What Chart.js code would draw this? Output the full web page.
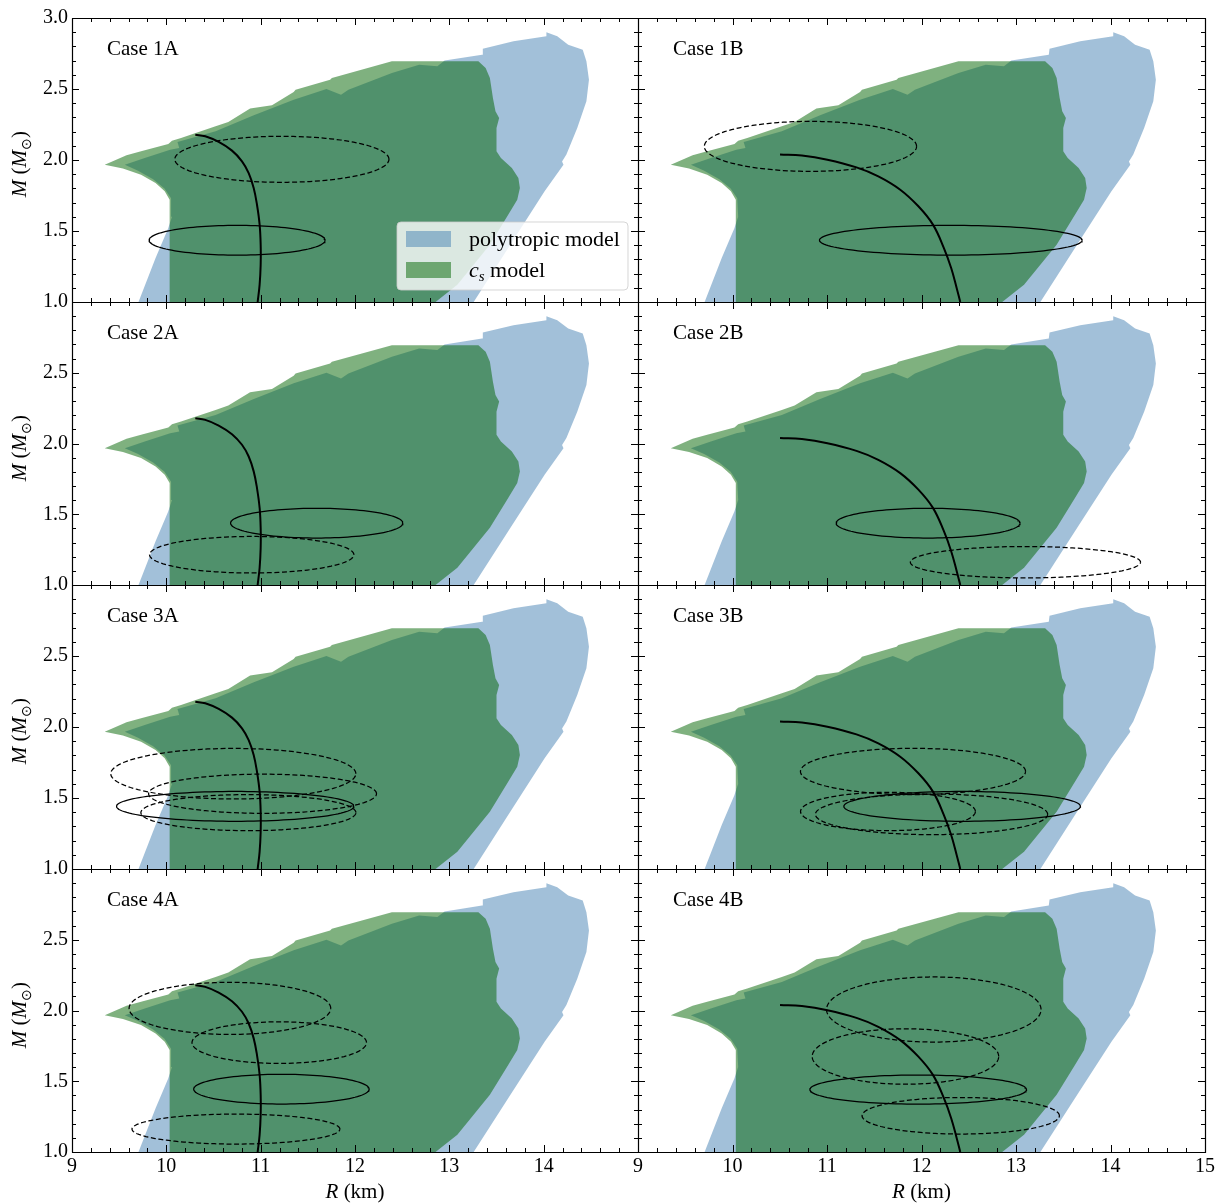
<!DOCTYPE html>
<html>
<head>
<meta charset="utf-8">
<script src="https://cdn.jsdelivr.net/npm/chart.js@4.4.1/dist/chart.umd.min.js"></script>
<style>
  body { margin: 0; background: #fff; }
  #fig { position: relative; width: 1215px; height: 1203px; overflow: hidden; font-family: 'Liberation Serif', serif; color: #000; }
  #fig canvas { position: absolute; }
  .xlab { position: absolute; font-size: 21px; transform: translateX(-50%); white-space: nowrap; }
  .ylab { position: absolute; font-size: 21px; transform: translate(-50%, -50%) rotate(-90deg); white-space: nowrap; }
  .ylab sub { font-size: 14px; }
</style>
</head>
<body>
<div id="fig"></div>
<script>
// panels
const caseLabels = ['Case 1A', 'Case 1B', 'Case 2A', 'Case 2B', 'Case 3A', 'Case 3B', 'Case 4A', 'Case 4B'];

// polytropic model region (R in km, M in Msun)
const polyR = [9.56, 9.771, 10.04, 10.137, 10.118, 10.522, 10.927, 11.35, 11.697, 11.852, 11.93, 12.391, 12.68, 12.873, 12.95,
  13.347, 13.355, 13.68, 14.029, 14.029, 14.144, 14.26, 14.414, 14.453, 14.48, 14.453, 14.356, 14.241, 14.195, 14.21,
  14.01, 13.624, 13.258, 9.705, 9.886, 10.02, 10.06, 10.05, 9.98, 9.86, 9.70, 9.56];
const polyM = [1.967, 2.014, 2.073, 2.085, 2.127, 2.202, 2.315, 2.425, 2.50, 2.46, 2.495, 2.613, 2.671, 2.66, 2.70,
  2.742, 2.784, 2.836, 2.871, 2.90, 2.871, 2.812, 2.777, 2.695, 2.566, 2.413, 2.225, 2.038, 1.99, 1.967,
  1.78, 1.38, 1.0, 1.0, 1.31, 1.52, 1.6, 1.73, 1.80, 1.865, 1.925, 1.967];

// c_s model region
const csR = [9.347, 9.578, 9.732, 10.021, 10.06, 10.156, 10.522, 10.657, 10.888, 11.12, 11.35, 11.37, 11.736, 11.755, 12.391,
  13.308, 13.385, 13.43, 13.462, 13.489, 13.528, 13.50, 13.50, 13.547, 13.663, 13.732, 13.748, 13.72, 13.624, 13.43,
  13.085, 12.854, 10.035, 10.035, 9.983, 9.886, 9.732, 9.54, 9.347];
const csM = [1.967, 2.033, 2.061, 2.113, 2.136, 2.155, 2.237, 2.268, 2.362, 2.385, 2.479, 2.495, 2.566, 2.577, 2.695,
  2.695, 2.648, 2.577, 2.437, 2.343, 2.296, 2.225, 2.061, 2.014, 1.944, 1.873, 1.803, 1.72, 1.615, 1.404,
  1.122, 1.0, 1.0, 1.72, 1.78, 1.838, 1.897, 1.94, 1.967];

// mass-radius curves
const curveAR = [10.307, 10.413, 10.555, 10.696, 10.802, 10.873, 10.926, 10.961, 10.989, 11.0, 11.0, 10.989, 10.968];
const curveAM = [2.178, 2.167, 2.127, 2.066, 1.991, 1.908, 1.803, 1.685, 1.545, 1.404, 1.263, 1.122, 1.0];
const curveBR = [10.503, 10.734, 11.004, 11.312, 11.543, 11.775, 11.967, 12.121, 12.237, 12.314, 12.372, 12.41];
const curveBM = [2.038, 2.031, 2.002, 1.948, 1.885, 1.791, 1.674, 1.545, 1.38, 1.239, 1.099, 1.0];

// measurement ellipses: panel, centre R, centre M, half width R, half width M, dashed
const ellPanel = [0, 0, 1, 1, 2, 2, 3, 3, 4, 4, 4, 4, 5, 5, 5, 5, 6, 6, 6, 6, 7, 7, 7, 7];
const ellR = [10.75, 11.225, 12.31, 10.825, 11.594, 10.905, 12.07, 13.10, 10.73, 10.71, 11.02, 10.87,
  12.43, 11.91, 11.645, 12.106, 11.22, 10.674, 11.197, 10.738, 11.965, 12.13, 11.83, 12.415];
const ellM = [1.435, 2.005, 1.435, 2.096, 1.437, 1.214, 1.437, 1.161, 1.441, 1.671, 1.53, 1.397,
  1.441, 1.687, 1.405, 1.385, 1.444, 2.015, 1.773, 1.162, 1.441, 2.007, 1.675, 1.256];
const ellDR = [0.933, 1.135, 1.39, 1.123, 0.913, 1.083, 0.973, 1.218, 1.258, 1.299, 1.208, 1.14,
  1.252, 1.191, 0.925, 1.229, 0.93, 1.069, 0.925, 1.102, 1.146, 1.135, 0.987, 1.044];
const ellDM = [0.105, 0.162, 0.105, 0.176, 0.105, 0.129, 0.105, 0.111, 0.105, 0.178, 0.138, 0.127,
  0.105, 0.163, 0.135, 0.143, 0.105, 0.184, 0.147, 0.106, 0.103, 0.23, 0.196, 0.129];
const ellDashed = [0, 1, 0, 1, 0, 1, 0, 1, 0, 1, 1, 1, 0, 1, 1, 1, 0, 1, 1, 1, 0, 1, 1, 1];

// axes
const xMin = 9, xMax = 15, xStep = 1, xMinor = 0.2;
const yMin = 1, yMax = 3, yStep = 0.5, yMinor = 0.1;

const colLeft = [72, 638];
const colWidth = [566, 567];
const rowTop = [18, 302, 585, 869];
const rowHeight = [284, 283, 284, 283];
const PAD_TOP = 20, PAD_RIGHT = 14, AXIS_W = 72, AXIS_H = 50;
const FONT = 'Liberation Serif';

const pts = (xs, ys) => xs.map((v, k) => ({ x: v, y: ys[k] }));

function ellipsePts(k) {
  const out = [];
  for (let j = 0; j <= 120; j++) {
    const t = 2 * Math.PI * j / 120;
    out.push({ x: ellR[k] + ellDR[k] * Math.cos(t), y: ellM[k] + ellDM[k] * Math.sin(t) });
  }
  return out;
}

// inward ticks on all four sides + frame
const frameTicks = {
  id: 'frameTicks',
  afterDraw(chart, args, opts) {
    const { ctx, chartArea: a, scales: { x, y } } = chart;
    ctx.save();
    ctx.strokeStyle = '#000';
    ctx.lineWidth = 1;
    ctx.beginPath();
    const nx = Math.round((xMax - xMin) / xMinor);
    for (let k = 0; k <= nx; k++) {
      const v = xMin + k * xMinor;
      const px = Math.round(x.getPixelForValue(v)) + 0.5;
      const len = Math.abs(v / xStep - Math.round(v / xStep)) < 1e-6 ? 7 : 4;
      ctx.moveTo(px, a.bottom); ctx.lineTo(px, a.bottom - len);
      ctx.moveTo(px, a.top); ctx.lineTo(px, a.top + len);
    }
    const ny = Math.round((yMax - yMin) / yMinor);
    for (let k = 0; k <= ny; k++) {
      const v = yMin + k * yMinor;
      const py = Math.round(y.getPixelForValue(v)) + 0.5;
      const len = Math.abs(v / yStep - Math.round(v / yStep)) < 1e-6 ? 7 : 4;
      ctx.moveTo(a.left, py); ctx.lineTo(a.left + len, py);
      ctx.moveTo(a.right, py); ctx.lineTo(a.right - len, py);
    }
    ctx.stroke();
    // frame: shared edges are drawn once
    ctx.lineWidth = 1.2;
    ctx.beginPath();
    const L = Math.round(a.left) + 0.5, R = Math.round(a.right) + 0.5;
    const T = Math.round(a.top) + 0.5, B = Math.round(a.bottom) + 0.5;
    ctx.moveTo(L, B); ctx.lineTo(R, B); ctx.lineTo(R, T);
    if (opts.top) { ctx.moveTo(L, T); ctx.lineTo(R, T); }
    if (opts.left) { ctx.moveTo(L, T); ctx.lineTo(L, B); }
    ctx.stroke();
    ctx.restore();
  }
};

const caseLabel = {
  id: 'caseLabel',
  afterDatasetsDraw(chart, args, opts) {
    const { ctx, chartArea: a } = chart;
    ctx.save();
    ctx.font = '21px "' + FONT + '"';
    ctx.fillStyle = '#000';
    ctx.textBaseline = 'alphabetic';
    ctx.fillText(opts.text, a.left + 35, a.top + 37);
    ctx.restore();
  }
};

// matplotlib-like legend inside the first panel
const legendBox = {
  id: 'legendBox',
  afterDraw(chart) {
    const { ctx, chartArea: a } = chart;
    const items = chart.data.datasets.filter(d => d.inLegend);
    const w = 231, h = 68;
    const left = a.right - 10 - w, top = a.bottom - 12 - h;
    ctx.save();
    ctx.beginPath();
    ctx.roundRect(left, top, w, h, 4);
    ctx.fillStyle = 'rgba(255,255,255,0.8)';
    ctx.fill();
    ctx.strokeStyle = 'rgba(204,204,204,0.8)';
    ctx.lineWidth = 1;
    ctx.stroke();
    items.forEach((d, k) => {
      const py = top + 9 + k * 31;
      ctx.fillStyle = d.backgroundColor;
      ctx.fillRect(left + 9, py, 45, 16);
      ctx.fillStyle = '#000';
      ctx.textBaseline = 'alphabetic';
      let tx = left + 72;
      const base = py + 15;
      const parts = d.label.split('_');
      if (parts.length === 2) {
        ctx.font = 'italic 22px "' + FONT + '"';
        ctx.fillText(parts[0], tx, base);
        tx += ctx.measureText(parts[0]).width;
        const sub = parts[1].split(' ')[0];
        ctx.font = 'italic 15px "' + FONT + '"';
        ctx.fillText(sub, tx, base + 4);
        tx += ctx.measureText(sub).width;
        ctx.font = '22px "' + FONT + '"';
        ctx.fillText(parts[1].slice(sub.length), tx, base);
      } else {
        ctx.font = '22px "' + FONT + '"';
        ctx.fillText(d.label, tx, base);
      }
    });
    ctx.restore();
  }
};

const fig = document.getElementById('fig');

caseLabels.forEach((text, i) => {
  const r = Math.floor(i / 2), c = i % 2;
  const cv = document.createElement('canvas');
  const W = colWidth[c] + AXIS_W + PAD_RIGHT, H = rowHeight[r] + PAD_TOP + AXIS_H;
  cv.width = W; cv.height = H;
  cv.style.width = W + 'px'; cv.style.height = H + 'px';
  cv.style.left = (colLeft[c] - AXIS_W) + 'px';
  cv.style.top = (rowTop[r] - PAD_TOP) + 'px';
  fig.appendChild(cv);

  const isA = text.endsWith('A');
  const datasets = [
    { label: 'polytropic model', inLegend: true, data: pts(polyR, polyM), showLine: true, fill: 'shape',
      backgroundColor: 'rgba(70,130,180,0.5)', borderColor: 'rgba(0,0,0,0)', borderWidth: 0, order: 9 },
    { label: 'c_s model', inLegend: true, data: pts(csR, csM), showLine: true, fill: 'shape',
      backgroundColor: 'rgba(0,100,0,0.5)', borderColor: 'rgba(0,0,0,0)', borderWidth: 0, order: 8 }
  ];
  ellPanel.forEach((p, k) => {
    if (p !== i) return;
    datasets.push({ label: 'ellipse', data: ellipsePts(k), showLine: true, fill: false,
      borderColor: '#000', borderWidth: 1.25, borderDash: ellDashed[k] ? [5, 2.6] : [], order: 2 });
  });
  datasets.push({ label: 'M-R', data: isA ? pts(curveAR, curveAM) : pts(curveBR, curveBM), showLine: true,
    fill: false, borderColor: '#000', borderWidth: 2, tension: 0.4, order: 1 });

  new Chart(cv, {
    type: 'scatter',
    data: { datasets },
    options: {
      responsive: false,
      animation: false,
      events: [],
      layout: { padding: { top: PAD_TOP, right: PAD_RIGHT, left: 0, bottom: 0 } },
      elements: { point: { radius: 0, hoverRadius: 0 } },
      plugins: {
        legend: { display: false },
        tooltip: { enabled: false },
        caseLabel: { text },
        frameTicks: { top: r === 0, left: c === 0 }
      },
      scales: {
        x: {
          type: 'linear', min: xMin, max: xMax,
          grid: { display: false, drawTicks: false },
          border: { display: false },
          ticks: {
            display: r === 3, stepSize: xStep, autoSkip: false, maxRotation: 0, padding: 3,
            color: '#000', font: { family: FONT, size: 20 },
            callback: v => (c === 0 && v === xMax) ? '' : String(v)
          },
          afterFit: s => { s.height = AXIS_H; }
        },
        y: {
          type: 'linear', min: yMin, max: yMax,
          grid: { display: false, drawTicks: false },
          border: { display: false },
          ticks: {
            display: c === 0, stepSize: yStep, autoSkip: false, padding: 4,
            color: '#000', font: { family: FONT, size: 20 },
            callback: v => (r > 0 && v === yMax) ? '' : v.toFixed(1)
          },
          afterFit: s => { s.width = AXIS_W; }
        }
      }
    },
    plugins: i === 0 ? [frameTicks, caseLabel, legendBox] : [frameTicks, caseLabel]
  });
});

// axis titles
colLeft.forEach((l, c) => {
  const d = document.createElement('div');
  d.className = 'xlab';
  d.style.left = (l + colWidth[c] / 2) + 'px';
  d.style.top = '1179px';
  d.innerHTML = '<i>R</i> (km)';
  fig.appendChild(d);
});
rowTop.forEach((t, r) => {
  const d = document.createElement('div');
  d.className = 'ylab';
  d.style.left = '21px';
  d.style.top = (t + rowHeight[r] / 2 + 4) + 'px';
  d.innerHTML = '<i>M</i> (<i>M</i><sub>⊙</sub>)';
  fig.appendChild(d);
});
</script>
</body>
</html>
